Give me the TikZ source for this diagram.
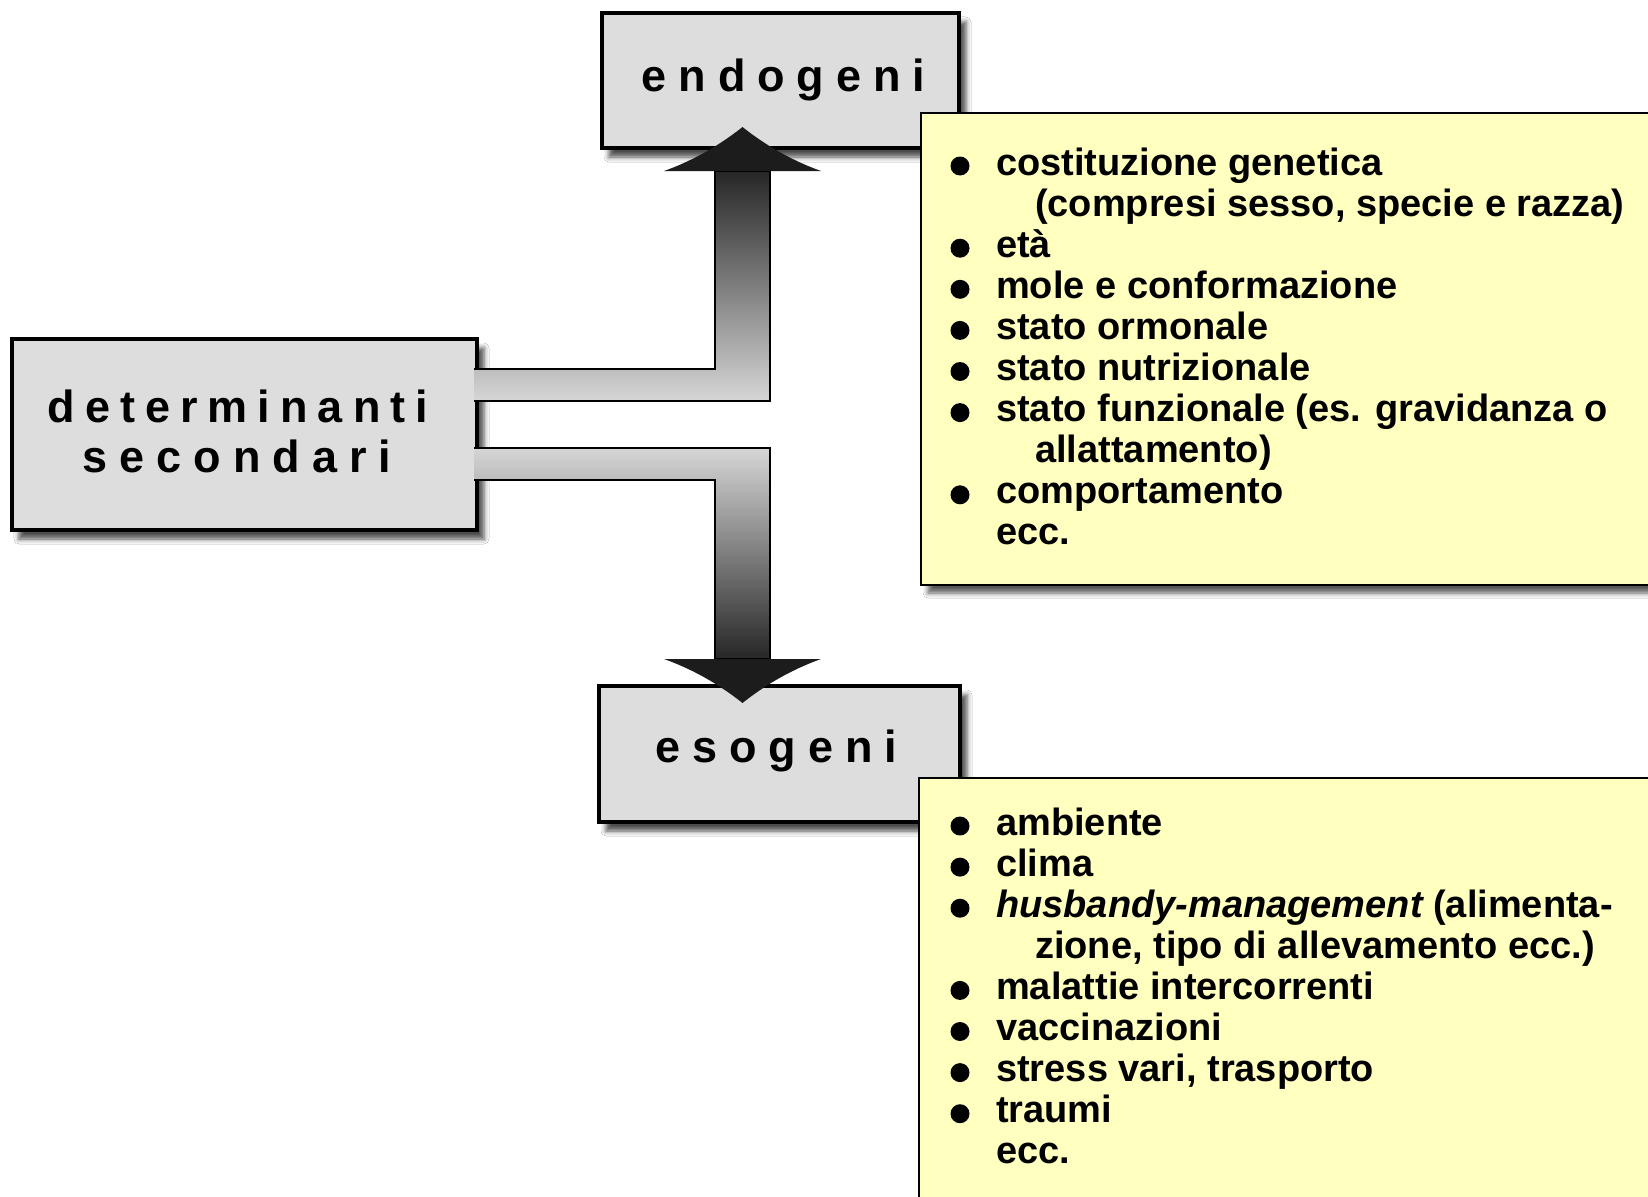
\documentclass[tikz,border=0pt]{standalone}
\usepackage{fontspec}
\setmainfont{Liberation Sans}
\usetikzlibrary{calc,shadows.blur}

\definecolor{boxgray}{RGB}{221,221,221}
\definecolor{notepad}{RGB}{255,255,192}
\definecolor{shaftdark}{RGB}{38,38,38}
\definecolor{shaftlight}{RGB}{214,214,214}
\definecolor{headdark}{RGB}{28,28,28}

% letter-spaced word: every letter followed by a fixed gap, last gap removed
\ExplSyntaxOn
\NewDocumentCommand\spreadword{O{12pt}m}{
  \tl_map_inline:nn {#2} { ##1 \hspace{#1} } \hspace{-#1}
}
\ExplSyntaxOff

\begin{document}
\begin{tikzpicture}[x=1pt,y=-1pt,
  boxlabel/.style={draw=black, line width=4pt, fill=boxgray, outer sep=0pt,
    inner sep=0pt, font=\fontsize{45}{50}\selectfont\bfseries,
    blur shadow={shadow xshift=7pt, shadow yshift=-9pt,
      shadow blur radius=5pt, shadow opacity=70}},
  notebox/.style={draw=black, line width=2pt, fill=notepad, outer sep=0pt,
    inner sep=0pt,
    blur shadow={shadow xshift=7pt, shadow yshift=-8pt,
      shadow blur radius=5pt, shadow opacity=65}},
  item/.style={anchor=base west, inner sep=0pt,
    font=\fontsize{38}{41}\selectfont\bfseries},
  dot/.style={circle, fill=black, inner sep=0pt, minimum size=19pt},
  shaft/.style={draw=black, line width=1.8pt, line join=miter},
]
% page
\fill[white] (0,0) rectangle (1648,1196);
\useasboundingbox (0,0) rectangle (1648,1196);

% main boxes
\node[boxlabel, minimum width=465pt, minimum height=191pt, align=center,
      text depth=7pt] (det) at (244.5,434.5)
  {\spreadword[10pt]{determinanti}\hspace{13pt}\mbox{}\\\spreadword{secondari}\hspace{15pt}\mbox{}};
\node[boxlabel, minimum width=357pt, minimum height=135pt,
      text height=32pt, text depth=9.5pt] (endo) at (780.5,80.5)
  {\hspace{18pt}\spreadword{endogeni}};
\node[boxlabel, minimum width=361pt, minimum height=136pt,
      text height=32pt, text depth=16pt] (eso) at (779.5,754)
  {\hspace{6pt}\spreadword{esogeni}};

% arrow tips
\coordinate (upTip) at ($(endo.south)+(-38,-21)$);
\coordinate (downTip) at ($(eso.north)+(-37,17)$);

% upward connector: band from det, shaft up to endo
\coordinate (uA) at ($(det.east)+(-3,-65.5)$);
\coordinate (uB) at ($(det.east)+(-3,-33.5)$);
\coordinate (uL) at ($(upTip)+(-27.5,44)$);
\coordinate (uR) at ($(upTip)+(27.5,44)$);
\shade[shaft, top color=shaftdark, bottom color=shaftlight]
  (uA) -- (uA -| uL) -- (uL) -- (uR) -- (uB -| uR) -- (uB);
\fill[headdark]
  ($(upTip)+(-78.5,44)$) .. controls ($(upTip)+(-42,31)$) and ($(upTip)+(-15,12)$) .. (upTip)
  .. controls ($(upTip)+(15,12)$) and ($(upTip)+(42,31)$) .. ($(upTip)+(78.5,44)$) -- cycle;

% downward connector: band from det, shaft down to eso
\coordinate (lA) at ($(det.east)+(-3,13.5)$);
\coordinate (lB) at ($(det.east)+(-3,45.5)$);
\coordinate (lL) at ($(downTip)+(-27.5,-44)$);
\coordinate (lR) at ($(downTip)+(27.5,-44)$);
\shade[shaft, top color=shaftlight, bottom color=shaftdark]
  (lB) -- (lB -| lL) -- (lL) -- (lR) -- (lA -| lR) -- (lA);
\fill[headdark]
  ($(downTip)+(-78.5,-44)$) .. controls ($(downTip)+(-42,-31)$) and ($(downTip)+(-15,-12)$) .. (downTip)
  .. controls ($(downTip)+(15,-12)$) and ($(downTip)+(42,-31)$) .. ($(downTip)+(78.5,-44)$) -- cycle;

% note boxes
\node[notebox, minimum width=738pt, minimum height=472pt] (endoNotes) at (1290,349) {};
\node[notebox, minimum width=740pt, minimum height=441pt] (esoNotes) at (1289,998.5) {};

% endogenous factors
\node[item] (e1) at ($(endoNotes.north west)+(75,62)$) {costituzione genetica};
\node[item] (e2) at ($(e1.base west)+(39,41.1)$) {(compresi sesso, specie e razza)};
\node[item] (e3) at ($(e1.base west)+(0,82.2)$) {età};
\node[item] (e4) at ($(e1.base west)+(0,123.3)$) {mole e conformazione};
\node[item] (e5) at ($(e1.base west)+(0,164.4)$) {stato ormonale};
\node[item] (e6) at ($(e1.base west)+(0,205.5)$) {stato nutrizionale};
\node[item] (e7) at ($(e1.base west)+(0,246.6)$) {stato funzionale (es. gravidanza o};
\node[item] (e8) at ($(e1.base west)+(39,287.7)$) {allattamento)};
\node[item] (e9) at ($(e1.base west)+(0,328.8)$) {comportamento};
\node[item] (e10) at ($(e1.base west)+(0,369.9)$) {ecc.};
\foreach \n in {e1,e3,e4,e5,e6,e7,e9}
  \node[dot] at ($(\n.base west)+(-36,-9)$) {};

% exogenous factors
\node[item] (x1) at ($(esoNotes.north west)+(77,57)$) {ambiente};
\node[item] (x2) at ($(x1.base west)+(0,41.1)$) {clima};
\node[item] (x3) at ($(x1.base west)+(0,82.2)$) {\itshape husbandy-management\upshape{} (alimenta-};
\node[item] (x4) at ($(x1.base west)+(39,123.3)$) {zione, tipo di allevamento ecc.)};
\node[item] (x5) at ($(x1.base west)+(0,164.4)$) {malattie intercorrenti};
\node[item] (x6) at ($(x1.base west)+(0,205.5)$) {vaccinazioni};
\node[item] (x7) at ($(x1.base west)+(0,246.6)$) {stress vari, trasporto};
\node[item] (x8) at ($(x1.base west)+(0,287.7)$) {traumi};
\node[item] (x9) at ($(x1.base west)+(0,328.8)$) {ecc.};
\foreach \n in {x1,x2,x3,x5,x6,x7,x8}
  \node[dot] at ($(\n.base west)+(-36,-9)$) {};
\end{tikzpicture}
\end{document}
